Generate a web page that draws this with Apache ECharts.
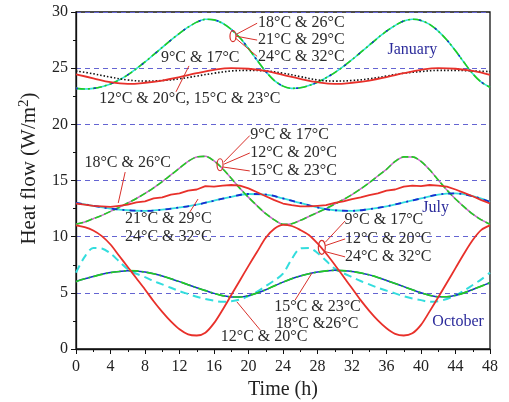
<!DOCTYPE html>
<html><head><meta charset="utf-8">
<script src="https://cdn.jsdelivr.net/npm/echarts@6/dist/echarts.min.js"></script>
<style>html,body{margin:0;padding:0;background:#fff}#c{width:509px;height:402px}</style>
</head><body><div id="c"></div>
<script>
// ---- time grids (h) ----
const T2 = [0,2,4,6,8,10,12,14,16,18,20,22,24,26,28,30,32,34,36,38,40,42,44,46,48];
const T1 = [0,1,2,3,4,5,6,7,8,9,10,11,12,13,14,15,16,17,18,19,20,21,22,23,24,25,26,27,28,29,30,31,32,33,34,35,36,37,38,39,40,41,42,43,44,45,46,47,48];
const X_TICKS = [0,4,8,12,16,20,24,28,32,36,40,44,48];
const Y_TICKS = [0,5,10,15,20,25,30];

// ---- January ----
const janBig = [23.2,23.15,23.2,23.35,23.6,23.95,24.4,24.95,25.55,26.2,26.85,27.5,28.1,28.65,29.1,29.35,29.3,29.0,28.45,27.7,26.75,25.7,24.7,23.9,23.4,23.2,23.25,23.45,23.75,24.15,24.6,25.15,25.75,26.4,27.05,27.7,28.3,28.8,29.2,29.35,29.25,28.9,28.3,27.5,26.55,25.5,24.5,23.75,23.3]; // 1 h
const janRed = [24.45,24.1,23.75,23.6,23.7,23.9,24.2,24.55,24.85,25.0,24.95,24.75,24.4,24.05,23.75,23.6,23.7,23.9,24.2,24.55,24.85,25.0,24.95,24.75,24.4]; // 2 h
const janDot = [24.75,24.5,24.2,23.95,23.85,23.9,24.05,24.3,24.55,24.75,24.8,24.75,24.55,24.25,23.95,23.85,23.9,24.05,24.3,24.55,24.7,24.8,24.8,24.75,24.7]; // 2 h

// ---- July ----
const julBig = [11.1,11.3,11.6,11.9,12.25,12.6,13.0,13.4,13.85,14.35,14.9,15.5,16.1,16.7,17.1,17.15,16.75,16.05,15.2,14.3,13.5,12.75,12.05,11.5,11.1,11.15,11.45,11.8,12.15,12.5,12.9,13.3,13.75,14.25,14.8,15.4,16.0,16.7,17.1,17.1,16.7,15.95,15.05,14.15,13.35,12.65,12.0,11.5,11.1]; // 1 h
const julRed = [12.95,12.85,12.75,12.7,12.65,12.75,12.85,13.05,13.15,13.4,13.5,13.75,13.85,14.1,14.2,14.5,14.45,14.55,14.6,14.55,14.3,13.95,13.6,13.25,12.95,12.8,12.7,12.7,12.75,12.8,13.0,13.15,13.35,13.5,13.7,13.85,14.1,14.2,14.45,14.55,14.5,14.6,14.55,14.45,14.2,13.9,13.6,13.25,12.95]; // 1 h
const julBlue = [13.0,12.75,12.5,12.35,12.3,12.4,12.6,12.85,13.2,13.55,13.8,13.75,13.4,13.0,12.6,12.35,12.3,12.45,12.7,13.05,13.4,13.75,13.85,13.6,13.1]; // 2 h

// ---- October ----
const octRed = [11.0,10.85,10.55,10.05,9.3,8.3,7.3,6.3,5.3,4.25,3.3,2.45,1.75,1.3,1.2,1.45,2.3,3.5,4.8,6.1,7.4,8.65,9.9,10.7,11.05,10.95,10.6,10.15,9.4,8.5,7.5,6.45,5.4,4.35,3.4,2.55,1.85,1.35,1.2,1.4,2.15,3.35,4.6,5.9,7.2,8.5,9.7,10.6,11.0]; // 1 h
const octGreen = [6.0,6.25,6.45,6.65,6.8,6.9,6.97,6.95,6.85,6.7,6.5,6.25,6.0,5.72,5.45,5.2,4.95,4.75,4.63,4.63,4.75,4.98,5.28,5.62,5.95,6.25,6.5,6.7,6.85,6.95,7.0,6.97,6.9,6.77,6.6,6.37,6.1,5.83,5.55,5.27,5.0,4.78,4.65,4.65,4.78,5.0,5.3,5.6,5.9]; // 1 h
const octCyan = [6.8,8.2,9.0,8.95,8.5,7.8,7.1,6.7,6.4,6.05,5.75,5.45,5.15,4.9,4.65,4.45,4.3,4.2,4.25,4.4,4.7,5.1,5.6,6.1,6.7,8.0,8.95,9.0,8.55,7.85,7.15,6.75,6.4,6.05,5.75,5.45,5.2,4.95,4.7,4.5,4.35,4.2,4.25,4.45,4.75,5.2,5.7,6.2,6.8]; // 1 h

// ---- annotations (data coordinates) ----
const labels = [
  ['18°C & 26°C', 21.1, 29.0, 'left'], ['21°C & 29°C', 21.1, 27.5, 'left'], ['24°C & 32°C', 21.1, 26.0, 'left'],
  ['9°C & 17°C', 14.4, 25.9, 'center'], ['12°C & 20°C, 15°C & 23°C', 13.2, 22.3, 'center'],
  ['18°C & 26°C', 6.0, 16.55, 'center'],
  ['9°C & 17°C', 20.2, 19.05, 'left'], ['12°C & 20°C', 20.2, 17.45, 'left'], ['15°C & 23°C', 20.2, 15.85, 'left'],
  ['21°C & 29°C', 10.7, 11.55, 'center'], ['24°C & 32°C', 10.7, 9.95, 'center'],
  ['9°C & 17°C', 35.7, 11.5, 'center'], ['12°C & 20°C', 36.2, 9.8, 'center'], ['24°C & 32°C', 36.2, 8.2, 'center'],
  ['15°C & 23°C', 28.0, 3.75, 'center'], ['18°C &26°C', 27.95, 2.2, 'center'], ['12°C & 20°C', 21.8, 1.05, 'center']
];
const months = [['January', 39.0, 26.6], ['July', 41.7, 12.55], ['October', 44.3, 2.4]];
const pointers = [
  [18.55,28.0,21.0,29.0],[18.55,27.85,21.0,27.5],[18.45,27.7,21.0,26.05],
  [13.1,25.2,11.6,22.9],
  [5.7,15.75,4.9,13.0],
  [17.15,16.65,20.15,19.0],[17.15,16.45,20.15,17.45],[17.05,16.2,20.15,15.85],
  [14.15,13.35,13.2,12.2],
  [28.9,9.5,31.2,11.4],[28.9,9.2,31.2,9.8],[28.75,8.7,31.2,8.2],
  [27.35,6.75,25.4,4.35],
  [18.65,4.2,21.35,1.7]
];
const ellipses = [[18.2,27.85,3,5.5],[16.7,16.4,3,6],[28.5,9.05,3.5,7]];

const FONT = 'Liberation Serif';
function pairs(ts, vs){ return ts.map((t,i)=>[t, vs[i]]); }
function line(data, color, width, type, smooth, z){
  return {type:'line', data, showSymbol:false, symbol:'none', smooth: smooth, z: z||2,
    lineStyle:{color, width, type: type||'solid', cap:'butt'}, animation:false, silent:true};
}
const chart = echarts.init(document.getElementById('c'), null, {renderer:'canvas'});
chart.setOption({
  animation:false,
  grid:{left:76, right:19, top:12, bottom:53, containLabel:false, outerBoundsMode:'none',
    show:true, borderColor:'#111', borderWidth:1.3, backgroundColor:'transparent'},
  xAxis:{type:'value', min:0, max:48, interval:4,
    name:'Time (h)', nameLocation:'middle', nameGap:30,
    nameTextStyle:{fontFamily:FONT, fontSize:20, color:'#222'},
    axisLine:{show:true, onZero:false, lineStyle:{color:'#111', width:1.3}},
    axisTick:{show:true, inside:false, length:5, lineStyle:{color:'#111'}},
    minorTick:{show:true, splitNumber:2, length:3, lineStyle:{color:'#111'}},
    axisLabel:{fontFamily:FONT, fontSize:16, color:'#222', margin:10,
      formatter: v => X_TICKS.includes(v) ? String(v) : ''},
    splitLine:{show:false}},
  yAxis:{type:'value', min:0, max:30, interval:5,
    name:'Heat flow (W/m{sup|2})', nameLocation:'middle', nameGap:34, nameRotate:90,
    nameTextStyle:{fontFamily:FONT, fontSize:21, color:'#222', padding:[0,0,0,24],
      rich:{sup:{fontFamily:FONT, fontSize:15, color:'#222', verticalAlign:'top', padding:[0,0,10,0]}}},
    axisLine:{show:true, onZero:false, lineStyle:{color:'#111', width:1.3}},
    axisTick:{show:true, inside:false, length:5, lineStyle:{color:'#111'}},
    minorTick:{show:true, splitNumber:2, length:3, lineStyle:{color:'#111'}},
    axisLabel:{fontFamily:FONT, fontSize:16, color:'#222', margin:8,
      formatter: v => Y_TICKS.includes(v) ? String(v) : ''},
    splitLine:{show:true, lineStyle:{color:'#6464d2', type:[5,4], width:1}}},
  series:[
    // January
    line(pairs(T1, janBig), '#33dddd', 1.6, 'solid', 0.3, 2),
    line(pairs(T1, janBig), '#22cc22', 1.6, [9,3,2,3], 0.3, 3),
    line(pairs(T1, janBig), '#1a2bd0', 1.6, [2,16], 0.3, 4),
    line(pairs(T2, janDot), '#111111', 1.6, [1.5,2], 0.4, 5),
    line(pairs(T2, janRed), '#e8302a', 1.8, 'solid', 0.4, 6),
    // July
    line(pairs(T1, julBig), '#cc66cc', 1.5, 'solid', 0.3, 2),
    line(pairs(T1, julBig), '#22cc22', 1.6, [7,3], 0.3, 3),
    line(pairs(T2, julBlue), '#33dddd', 1.8, 'solid', 0.4, 2),
    line(pairs(T2, julBlue), '#1a2bd0', 1.8, [6,5,2,5], 0.4, 3),
    line(pairs(T1, julRed), '#e8302a', 1.8, 'solid', false, 6),
    // October
    line(pairs(T1, octCyan), '#33dddd', 2, [8,5], 0.3, 2),
    line(pairs(T1, octGreen), '#1a2bd0', 1.5, 'solid', 0.3, 3),
    line(pairs(T1, octGreen), '#22cc22', 1.7, [10,3,2,3], 0.3, 4),
    line(pairs(T1, octRed), '#e8302a', 1.8, 'solid', 0.3, 6)
  ]
});

function px(t, v){ return chart.convertToPixel({gridIndex:0}, [t, v]); }
const g = [];
pointers.forEach(p => {
  const a = px(p[0], p[1]), b = px(p[2], p[3]);
  g.push({type:'line', z:20, shape:{x1:a[0], y1:a[1], x2:b[0], y2:b[1]}, style:{stroke:'#d8302a', lineWidth:1}});
});
ellipses.forEach(e => {
  const c = px(e[0], e[1]);
  g.push({type:'ellipse', z:20, shape:{cx:c[0], cy:c[1], rx:e[2], ry:e[3]}, style:{stroke:'#d8302a', lineWidth:1.2, fill:'none'}});
});
labels.forEach(l => {
  const c = px(l[1], l[2]);
  g.push({type:'text', z:21, x:c[0], y:c[1], style:{text:l[0], fontFamily:FONT, fontSize:16, fill:'#2a2a2a', align:l[3], verticalAlign:'middle'}});
});
months.forEach(m => {
  const c = px(m[1], m[2]);
  g.push({type:'text', z:21, x:c[0], y:c[1], style:{text:m[0], fontFamily:FONT, fontSize:16, fill:'#2b2b9b', align:'center', verticalAlign:'middle'}});
});
chart.setOption({graphic: g});
</script></body></html>
